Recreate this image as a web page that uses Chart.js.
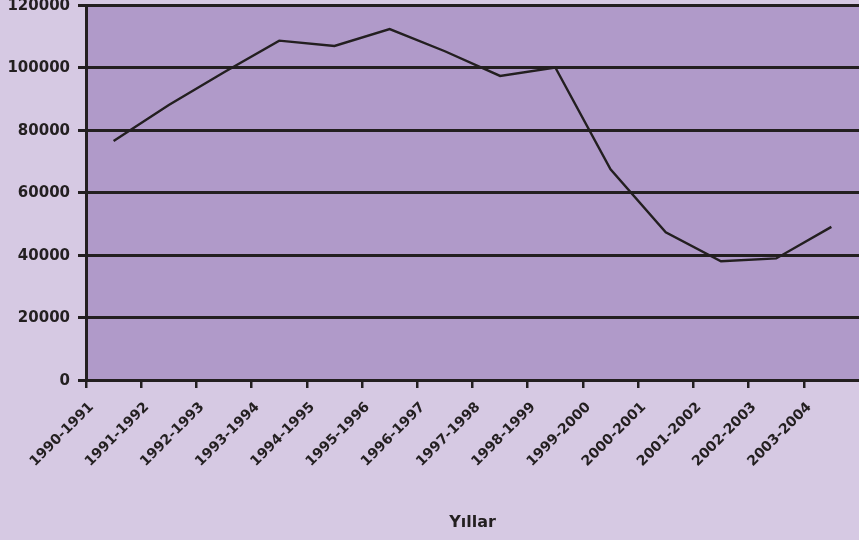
<!DOCTYPE html>
<html>
<head>
<meta charset="utf-8">
<script src="https://cdn.jsdelivr.net/npm/chart.js@4.4.0/dist/chart.umd.min.js"></script>
<style>
  html, body { margin: 0; padding: 0; background: #d6c9e3; }
  #wrap { width: 859px; height: 540px; position: relative; }
</style>
</head>
<body>
<div id="wrap"><canvas id="chart"></canvas></div>
<script>
const years = ['1990-1991', '1991-1992', '1992-1993', '1993-1994', '1994-1995', '1995-1996', '1996-1997',
               '1997-1998', '1998-1999', '1999-2000', '2000-2001', '2001-2002', '2002-2003', '2003-2004'];
const values = [76500, 88000, 98500, 108600, 106900, 112300, 105200,
                97300, 100000, 67400, 47300, 38000, 38900, 49000];
const yMin = 0, yMax = 120000, yStep = 20000;
const axisTitle = 'Yıllar';

const dark = '#231f20';

// fills the plot area with the darker purple
const plotBg = {
  id: 'plotBg',
  beforeDraw(chart) {
    const { ctx, chartArea: a } = chart;
    ctx.save();
    ctx.fillStyle = '#b09ac9';
    ctx.fillRect(a.left, a.top, a.right - a.left, a.bottom - a.top);
    ctx.restore();
  }
};

new Chart(document.getElementById('chart'), {
  type: 'line',
  data: {
    labels: years,
    datasets: [{
      data: values,
      borderColor: dark,
      borderWidth: 2.4,
      pointRadius: 0,
      tension: 0,
      fill: false
    }]
  },
  options: {
    responsive: true,
    maintainAspectRatio: false,
    animation: false,
    layout: { padding: { top: 5, right: 0, bottom: 0, left: 0 } },
    plugins: {
      legend: { display: false },
      tooltip: { enabled: false }
    },
    scales: {
      x: {
        type: 'category',
        offset: true,
        grid: {
          offset: true,
          drawOnChartArea: false,
          drawTicks: true,
          tickLength: 8,
          // the last boundary tick falls off the right edge in the original
          color: c => c.type === 'tick' ? dark : 'transparent',
          lineWidth: 2.5
        },
        border: { display: true, color: dark, width: 3 },
        ticks: {
          autoSkip: false,
          minRotation: 45,
          maxRotation: 45,
          labelOffset: -22,
          padding: 11,
          color: dark,
          font: { family: 'DejaVu Sans', weight: 'bold', size: 14 }
        },
        title: {
          display: true,
          text: axisTitle,
          color: dark,
          font: { family: 'DejaVu Sans', weight: 'bold', size: 16 },
          padding: { top: 0, bottom: 8 }
        },
        afterFit(scale) { scale.height = 160; }
      },
      y: {
        min: yMin,
        max: yMax,
        grid: {
          drawTicks: true,
          tickLength: 8,
          color: dark,
          lineWidth: 3
        },
        border: { display: true, color: dark, width: 3 },
        ticks: {
          stepSize: yStep,
          padding: 8,
          labelOffset: 1,
          color: dark,
          font: { family: 'DejaVu Sans', weight: 'bold', size: 15 },
          callback: v => String(v)
        },
        afterFit(scale) {
          scale.width = 86;
          scale.paddingTop = 0;
          scale.paddingBottom = 0;
        }
      }
    }
  },
  plugins: [plotBg]
});
</script>
</body>
</html>
